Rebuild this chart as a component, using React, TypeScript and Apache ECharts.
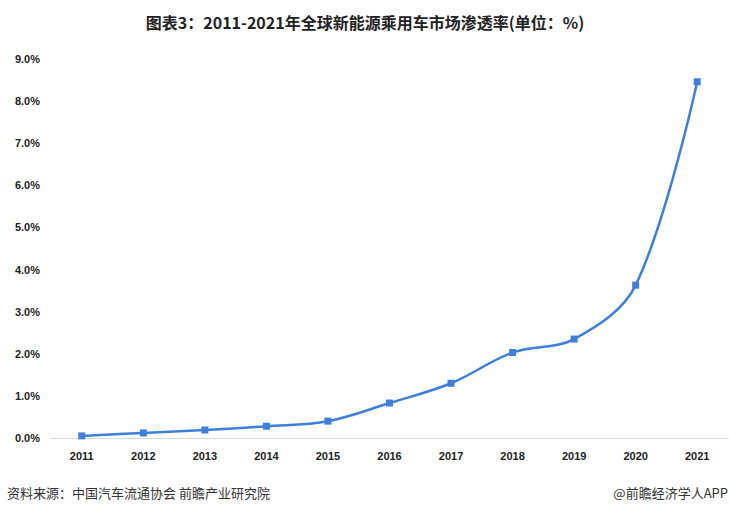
import React, { useEffect, useRef } from "react";
import * as echarts from "echarts";

const categories = ["2011", "2012", "2013", "2014", "2015", "2016", "2017", "2018", "2019", "2020", "2021"];
const penetration = [0.05, 0.12, 0.19, 0.28, 0.4, 0.83, 1.3, 2.03, 2.35, 3.63, 8.46];
const titleText = "图表3：2011-2021年全球新能源乘用车市场渗透率(单位：%)";
const sourceText = "资料来源：中国汽车流通协会 前瞻产业研究院";
const brandText = "@前瞻经济学人APP";

export default function App() {
  const ref = useRef<HTMLDivElement>(null);
  useEffect(() => {
    const chart = echarts.init(ref.current!, null, { renderer: "svg" });
    chart.setOption({
      animation: false,
      backgroundColor: "#ffffff",
      title: {
        text: titleText,
        left: "center",
        top: 9,
        textStyle: {
          fontFamily: "Noto Sans CJK SC",
          fontWeight: "bold",
          fontSize: 16,
          color: "#222",
        },
      },
      graphic: [
        {
          type: "text",
          left: 7,
          top: 486,
          style: { text: sourceText, font: "13px 'Noto Sans CJK SC'", fill: "#333" },
        },
        {
          type: "text",
          right: 2,
          top: 486,
          style: { text: brandText, font: "13px 'Noto Sans CJK SC'", fill: "#333" },
        },
      ],
      grid: { left: 51, right: 2, top: 59, bottom: 80, containLabel: false },
      xAxis: {
        type: "category",
        data: categories,
        boundaryGap: true,
        axisLine: { lineStyle: { color: "#d9d9d9", width: 1 } },
        axisTick: { show: false },
        axisLabel: {
          color: "#222",
          fontWeight: "bold",
          fontSize: 11,
          fontFamily: "'Liberation Sans Narrow', 'Arial Narrow', sans-serif",
          margin: 12,
        },
      },
      yAxis: {
        type: "value",
        min: 0,
        max: 9,
        interval: 1,
        axisLine: { show: false },
        axisTick: { show: false },
        splitLine: { show: false },
        axisLabel: {
          color: "#222",
          fontWeight: "bold",
          fontSize: 11,
          fontFamily: "'Liberation Sans', sans-serif",
          margin: 11,
          formatter: (v: number) => v.toFixed(1) + "%",
        },
      },
      series: [
        {
          type: "line",
          data: penetration,
          smooth: 0.35,
          symbol: "rect",
          symbolSize: 7,
          lineStyle: { color: "#3d7fd9", width: 2.5 },
          itemStyle: { color: "#3d7fd9" },
        },
      ],
    });
    return () => chart.dispose();
  }, []);
  return <div ref={ref} style={{ position: "fixed", left: 0, top: 0, width: 730, height: 518 }} />;
}
